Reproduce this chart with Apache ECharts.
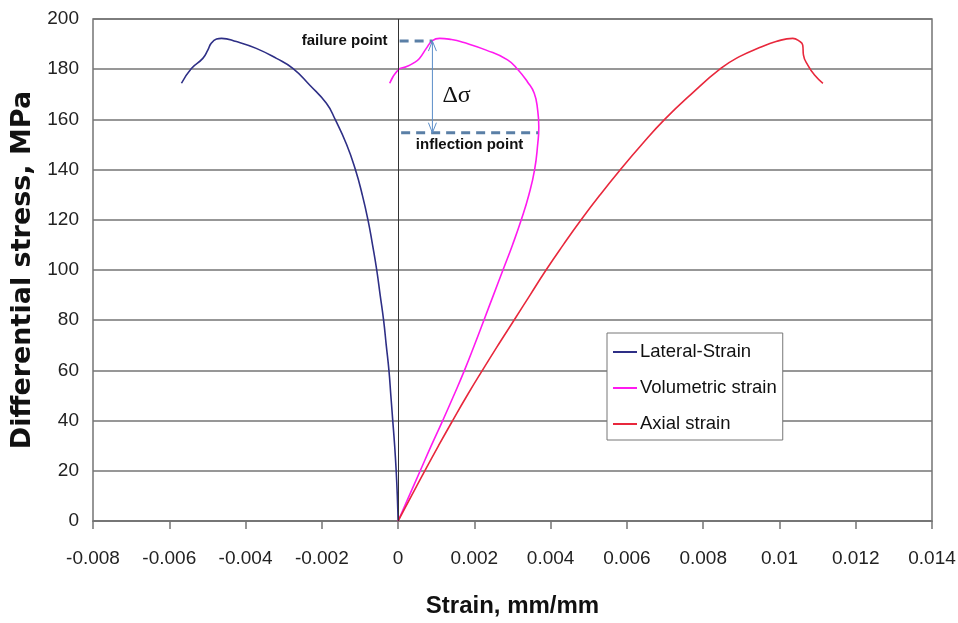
<!DOCTYPE html>
<html>
<head>
<meta charset="utf-8">
<script src="https://cdn.jsdelivr.net/npm/echarts@6/dist/echarts.min.js"></script>
<style>
  html, body { margin: 0; padding: 0; background: #ffffff; }
  #chart { width: 958px; height: 623px; }
</style>
</head>
<body>
<div id="chart"></div>
<script>
// Stress–strain curves of a triaxial compression test
const seriesNames = ['Lateral-Strain', 'Volumetric strain', 'Axial strain'];

const lateralStrain = [0, -0.00002, -0.00005, -0.00009, -0.00014, -0.00019, -0.00024, -0.00031, -0.00038, -0.00047,
  -0.00056, -0.00067, -0.00079, -0.00094, -0.00112, -0.00135, -0.00165, -0.00188, -0.00232, -0.00276,
  -0.00319, -0.00372, -0.00424, -0.00463, -0.00476, -0.0049, -0.00499, -0.00512, -0.00542, -0.00568];
const lateralStress = [0, 10, 20, 30, 40, 50, 60, 70, 80, 90,
  100, 110, 120, 130, 140, 150, 160, 166.4, 173.7, 180.3,
  184.3, 188.3, 191, 192.3, 192, 190.3, 187.6, 184.3, 180.3, 174.4];

const volumetricStrain = [0, 0.00029, 0.00058, 0.00087, 0.00117, 0.00146, 0.00174, 0.002, 0.00225, 0.0025,
  0.00275, 0.003, 0.00323, 0.00343, 0.00358, 0.00366, 0.00369, 0.00366, 0.00357,
  0.00339, 0.00315, 0.00287, 0.00231, 0.0017, 0.0014, 0.00109, 0.0009, 0.00074, 0.00056,
  0.00039, 0.00021, 0, -0.00022];
const volumetricStress = [0, 10, 20, 30, 40, 50, 60, 70, 80, 90,
  100, 110, 120, 130, 140, 150, 157, 163.7, 170.4,
  175, 179.7, 183.7, 187.6, 190.7, 191.8, 192.3, 191.4, 188.3, 184.3,
  182.3, 181, 179.7, 174.4];

const axialStrain = [0, 0.00035, 0.0007, 0.00106, 0.00143, 0.00181, 0.00221, 0.00262, 0.00304, 0.00346,
  0.00388, 0.00433, 0.0048, 0.0053, 0.00583, 0.00639, 0.00699, 0.00768, 0.00847, 0.00895,
  0.00948, 0.00991, 0.01035, 0.01052, 0.01061, 0.01063, 0.01074, 0.01092, 0.01114];
const axialStress = [0, 10, 20, 30, 40, 50, 60, 70, 80, 90,
  100, 110, 120, 130, 140, 150, 160, 170, 180.4, 185,
  188.6, 191, 192.3, 191.2, 189.6, 185.6, 181.7, 177.7, 174.4];

// Annotation: failure point and inflection point on the volumetric curve
const failureStrain = 0.0009;
const failureStress = 191.2;
const inflectionStress = 154.7;
const failureDashFrom = 0.00004;
const inflectionDashFrom = 0.00008;
const inflectionDashTo = 0.00367;

const zip = (xs, ys) => xs.map((x, i) => [x, ys[i]]);

const sans = '"Liberation Sans", Arial, sans-serif';
const gridGrey = '#747474';

const chart = echarts.init(document.getElementById('chart'), null, { renderer: 'canvas' });

function renderAnnotation(params, api) {
  const f0 = api.coord([failureDashFrom, failureStress]);
  const f1 = api.coord([failureStrain, failureStress]);
  const i0 = api.coord([inflectionDashFrom, inflectionStress]);
  const i1 = api.coord([inflectionDashTo, inflectionStress]);
  const top = api.coord([failureStrain, failureStress]);
  const bot = api.coord([failureStrain, inflectionStress]);
  const dash = { stroke: '#5A7FA6', lineWidth: 3, lineDash: [9, 6] };
  const arrow = { stroke: '#5B8DC8', lineWidth: 1, fill: null };
  return {
    type: 'group',
    children: [
      { type: 'line', shape: { x1: f0[0], y1: f0[1], x2: f1[0], y2: f1[1] }, style: dash },
      { type: 'line', shape: { x1: i0[0], y1: i0[1], x2: i1[0], y2: i1[1] }, style: dash },
      { type: 'line', shape: { x1: top[0], y1: top[1], x2: bot[0], y2: bot[1] }, style: arrow },
      { type: 'polyline', shape: { points: [[top[0] - 4, top[1] + 10], [top[0], top[1]], [top[0] + 4, top[1] + 10]] }, style: arrow },
      { type: 'polyline', shape: { points: [[bot[0] - 4, bot[1] - 10], [bot[0], bot[1]], [bot[0] + 4, bot[1] - 10]] }, style: arrow },
      { type: 'text', style: { x: f0[0] - 12, y: f0[1], text: 'failure point', align: 'right', verticalAlign: 'middle',
          font: 'bold 15px ' + sans, fill: '#111' } },
      { type: 'text', style: { x: (i0[0] + i1[0]) / 2, y: i0[1] + 12, text: 'inflection point', align: 'center', verticalAlign: 'middle',
          font: 'bold 15px ' + sans, fill: '#111' } },
      { type: 'text', style: { x: top[0] + 10, y: (top[1] + bot[1]) / 2 + 9, text: 'Δσ', align: 'left', verticalAlign: 'middle',
          font: '24px "Liberation Serif", "Times New Roman", serif', fill: '#111' } }
    ]
  };
}

const option = {
  backgroundColor: '#ffffff',
  animation: false,
  grid: {
    left: 93, right: 26, top: 19, bottom: 102,
    outerBoundsMode: 'none',
    containLabel: false,
    show: true, borderColor: gridGrey, borderWidth: 1.5, backgroundColor: 'transparent'
  },
  legend: {
    data: seriesNames,
    orient: 'vertical',
    left: 607, top: 333,
    padding: [9, 6, 6, 6],
    itemGap: 16,
    itemWidth: 24,
    itemHeight: 2,
    icon: 'rect',
    backgroundColor: '#ffffff',
    borderColor: '#777777',
    borderWidth: 1,
    textStyle: { fontFamily: sans, fontSize: 18.5, color: '#111', lineHeight: 20, padding: [0, 0, 0, -2] }
  },
  xAxis: {
    type: 'value',
    min: -0.008, max: 0.014, interval: 0.002,
    name: 'Strain, mm/mm',
    nameLocation: 'middle',
    nameGap: 73,
    nameTextStyle: { fontFamily: sans, fontWeight: 'bold', fontSize: 24, color: '#111' },
    axisLine: { show: true, onZero: false, lineStyle: { color: gridGrey, width: 1.5 } },
    axisTick: { show: true, inside: false, length: 8, lineStyle: { color: gridGrey, width: 1.5 } },
    axisLabel: {
      margin: 28, fontFamily: sans, fontSize: 19, color: '#222',
      formatter: v => String(+v.toFixed(3))
    },
    splitLine: { show: false }
  },
  yAxis: {
    type: 'value',
    min: 0, max: 200, interval: 20,
    name: 'Differential stress, MPa',
    nameLocation: 'middle',
    nameGap: 47,
    nameTextStyle: { fontFamily: '"DejaVu Sans", sans-serif', fontWeight: 'bold', fontSize: 27, color: '#111' },
    axisLine: { show: false },
    axisTick: { show: false },
    axisLabel: { margin: 14, fontFamily: sans, fontSize: 19, color: '#222' },
    splitLine: { show: true, lineStyle: { color: gridGrey, width: 1.5 } }
  },
  series: [
    {
      name: seriesNames[0], type: 'line', data: zip(lateralStrain, lateralStress),
      showSymbol: false, symbol: 'none', smooth: 0.5,
      lineStyle: { color: '#2E2F86', width: 1.6 }, itemStyle: { color: '#2E2F86' },
      markLine: {
        silent: true, symbol: 'none', label: { show: false },
        lineStyle: { color: '#333333', width: 1, type: 'solid' },
        data: [{ xAxis: 0 }]
      },
      z: 3
    },
    {
      name: seriesNames[1], type: 'line', data: zip(volumetricStrain, volumetricStress),
      showSymbol: false, symbol: 'none', smooth: 0.5,
      lineStyle: { color: '#FF1AF0', width: 1.6 }, itemStyle: { color: '#FF1AF0' }, z: 3
    },
    {
      name: seriesNames[2], type: 'line', data: zip(axialStrain, axialStress),
      showSymbol: false, symbol: 'none', smooth: 0.5,
      lineStyle: { color: '#E8283C', width: 1.6 }, itemStyle: { color: '#E8283C' }, z: 3
    },
    {
      name: 'annotation', type: 'custom', silent: true, z: 4,
      renderItem: renderAnnotation,
      data: [[failureStrain, failureStress]]
    }
  ]
};

chart.setOption(option);
</script>
</body>
</html>
